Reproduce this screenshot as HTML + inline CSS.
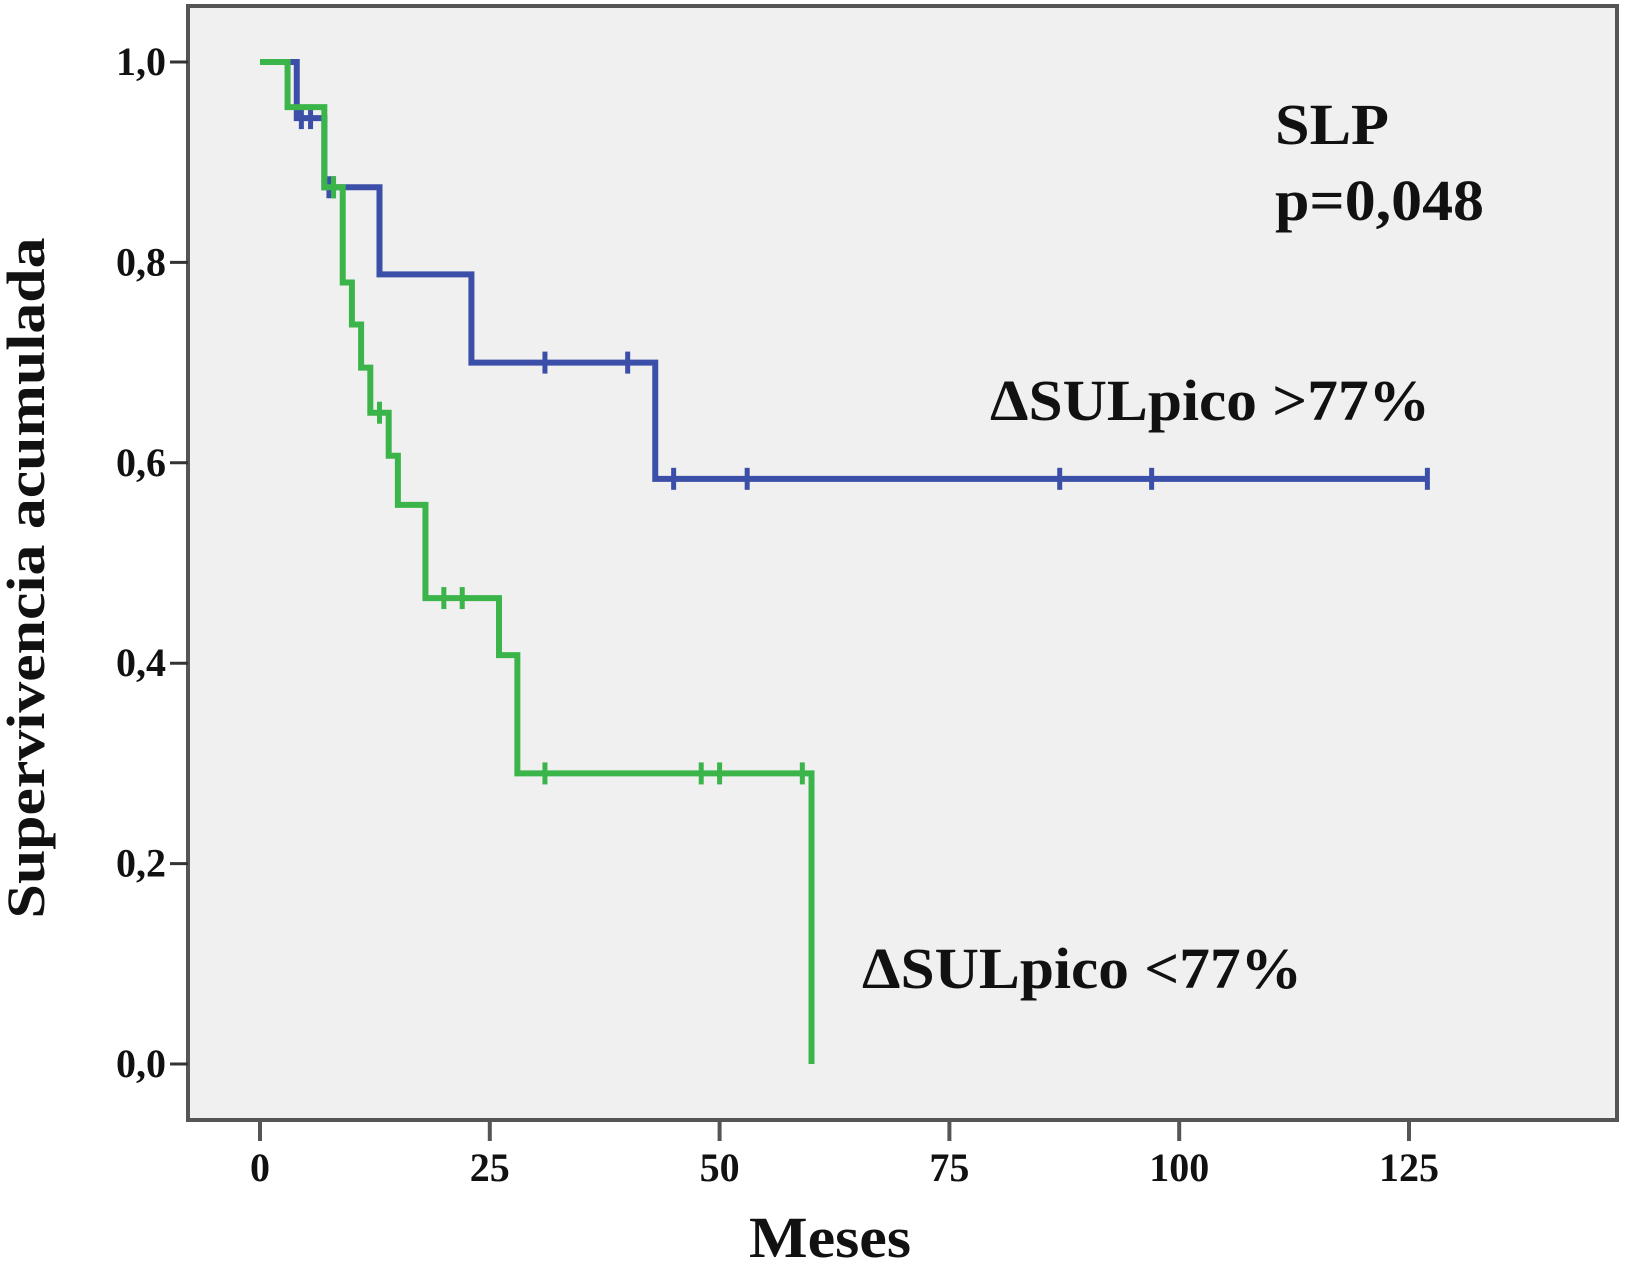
<!DOCTYPE html>
<html><head><meta charset="utf-8"><style>
body{margin:0;background:#fff}
svg text{font-family:"Liberation Serif",serif;font-weight:bold;fill:#111}
</style></head><body>
<svg id="chart" width="1625" height="1265" viewBox="0 0 1625 1265" xmlns="http://www.w3.org/2000/svg">
<rect x="188" y="6" width="1429" height="1114" fill="#f0f0f0" stroke="#555" stroke-width="4"/>
<g id="axes"></g>
<g id="series"></g>
<text x="830" y="1257" font-size="58" text-anchor="middle" textLength="162" lengthAdjust="spacingAndGlyphs">Meses</text>
<text transform="translate(44,578) rotate(-90)" font-size="54" text-anchor="middle" textLength="681" lengthAdjust="spacingAndGlyphs">Supervivencia acumulada</text>
<text x="1275" y="144" font-size="58" textLength="114" lengthAdjust="spacingAndGlyphs">SLP</text>
<text x="1275" y="220" font-size="58" textLength="209" lengthAdjust="spacingAndGlyphs">p=0,048</text>
<text x="990" y="420" font-size="58" textLength="440" lengthAdjust="spacingAndGlyphs">ΔSULpico &gt;77%</text>
<text x="862" y="988" font-size="58" textLength="440" lengthAdjust="spacingAndGlyphs">ΔSULpico &lt;77%</text>
</svg>
<script>
const xTicks=[0,25,50,75,100,125];
const yTicks=[0,0.2,0.4,0.6,0.8,1.0];
const yTickLabels=["0,0","0,2","0,4","0,6","0,8","1,0"];
const blueTimes=[0,4,7,13,23,43,127];
const blueSurv=[1.0,0.944,0.875,0.788,0.70,0.584,0.584];
const blueCens=[4.5,5.5,7.5,8,31,40,45,53,87,97,127];
const greenTimes=[0,3,7,9,10,11,12,14,15,18,26,28,60,60];
const greenSurv=[1.0,0.955,0.875,0.78,0.738,0.695,0.65,0.607,0.558,0.465,0.408,0.29,0.0,0.0];
const greenCens=[8,13,20,22,31,48,50,59];
const X=m=>260+m*1149/125, Y=s=>1064-s*1002;
const NS="http://www.w3.org/2000/svg";
const ax=document.getElementById('axes'), se=document.getElementById('series');
function mk(t,a,p){const e=document.createElementNS(NS,t);for(const k in a)e.setAttribute(k,a[k]);p.appendChild(e);return e;}
xTicks.forEach(v=>{
 const l=mk('line',{x1:X(v),x2:X(v),y1:1120,y2:1141,stroke:'#555','stroke-width':4},ax);
 
 
 const t=mk('text',{x:X(v),y:1181,'font-size':40,'text-anchor':'middle'},ax);t.textContent=v;
 
 
});
yTicks.forEach((v,i)=>{
 const l=mk('line',{x1:170,x2:188,y1:Y(v),y2:Y(v),stroke:'#333','stroke-width':3},ax);
 
 
 const t=mk('text',{x:166,y:Y(v)+13,'font-size':40,'text-anchor':'end'},ax);t.textContent=yTickLabels[i];
 
 
});
function stepAt(times,surv,t){let s=surv[0];for(let i=0;i<times.length;i++){if(times[i]<=t)s=surv[i];}return s;}
function draw(times,surv,cens,color,name){
 let d='M'+X(times[0])+','+Y(surv[0]);
 for(let i=1;i<times.length;i++){d+=' H'+X(times[i])+' V'+Y(surv[i]);}
 const p=mk('path',{d:d,fill:'none',stroke:color,'stroke-width':6},se);
 
 
 cens.forEach(c=>{
  const s=stepAt(times,surv,c);
  const m=mk('line',{x1:X(c),x2:X(c),y1:Y(s)-11,y2:Y(s)+11,stroke:color,'stroke-width':5},se);
  
  
 });
}
draw(blueTimes,blueSurv,blueCens,'#3c4fa8','high-group');
draw(greenTimes,greenSurv,greenCens,'#3bb54a','low-group');
</script>
</body></html>
